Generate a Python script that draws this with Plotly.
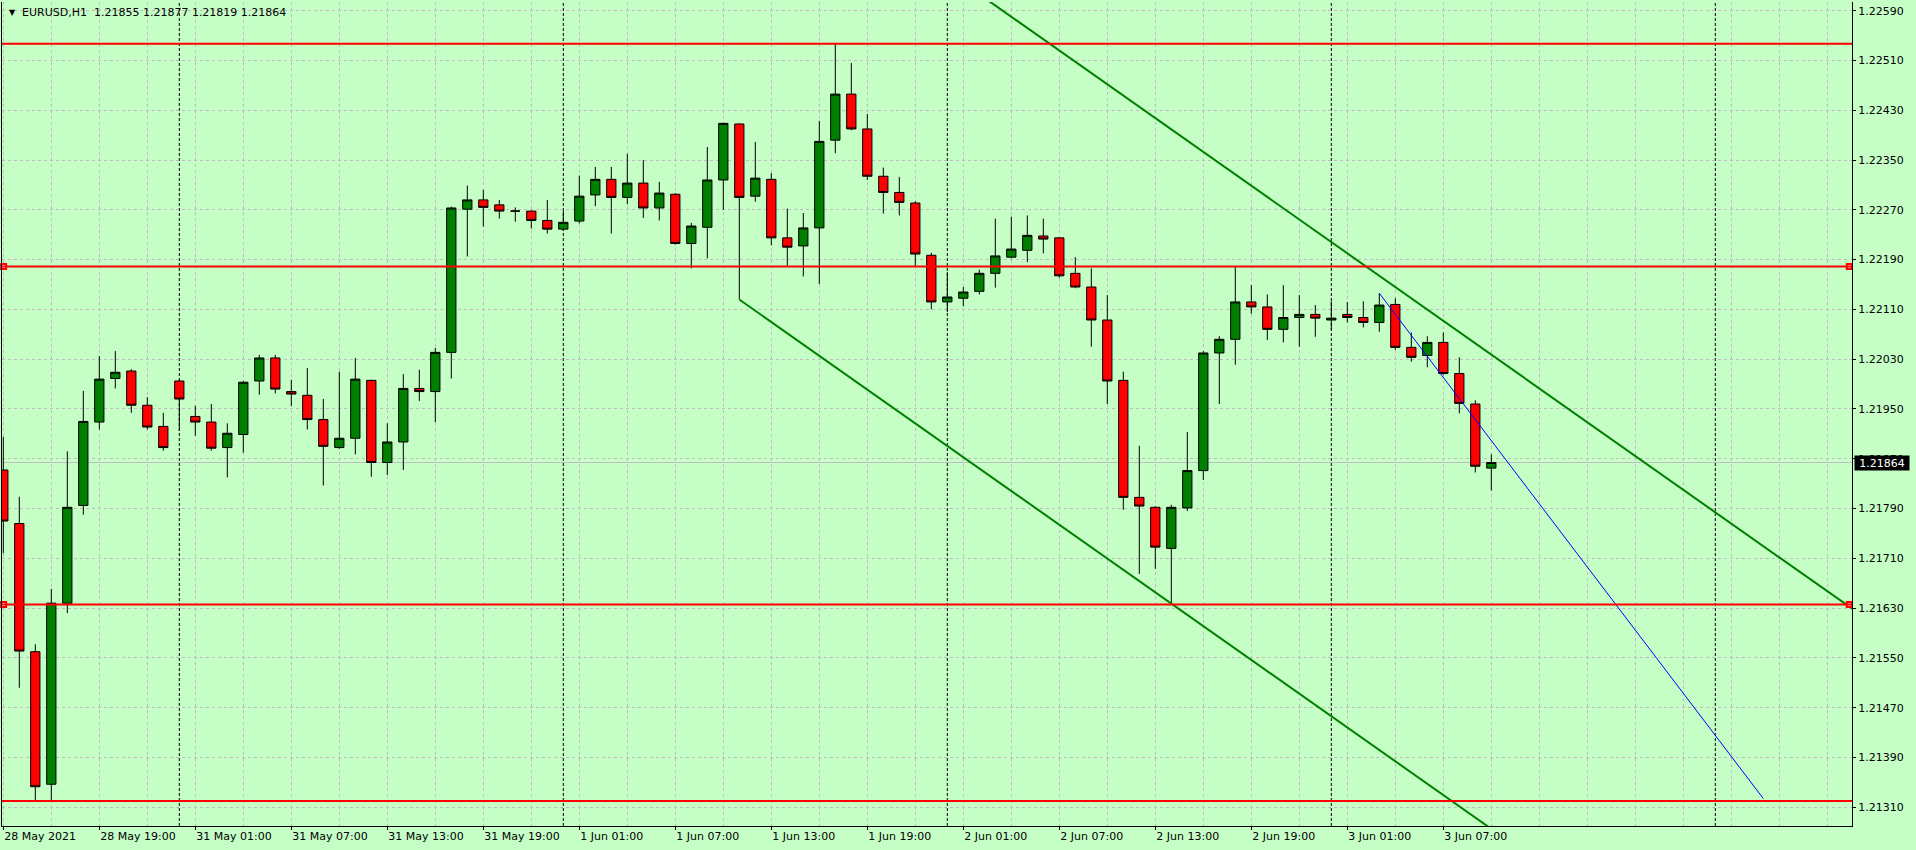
import plotly.graph_objects as go

# EURUSD H1, bars indexed from 28 May 2021 13:00 (bar 0) to 3 Jun 2021 10:00 (bar 93)
opens = [
    1.21852, 1.21766, 1.21560, 1.21347, 1.21638, 1.21795, 1.21929, 1.21999, 1.22011, 1.21956,
    1.21922, 1.21995, 1.21938, 1.21929, 1.21888, 1.21909, 1.21995, 1.22032, 1.21978, 1.21972,
    1.21933, 1.21888, 1.21903, 1.21996, 1.21864, 1.21897, 1.21983, 1.21978, 1.22041, 1.22271,
    1.22286, 1.22278, 1.22268, 1.22268, 1.22253, 1.22239, 1.22252, 1.22294, 1.22319, 1.22290,
    1.22313, 1.22273, 1.22295, 1.22216, 1.22242, 1.22318, 1.22408, 1.22292, 1.22319, 1.22225,
    1.22212, 1.22241, 1.22382, 1.22456, 1.22400, 1.22324, 1.22298, 1.22281, 1.22197, 1.22122,
    1.22128, 1.22139, 1.22168, 1.22194, 1.22205, 1.22228, 1.22225, 1.22168, 1.22146, 1.22093,
    1.21996, 1.21808, 1.21792, 1.21726, 1.21791, 1.21851, 1.22040, 1.22062, 1.22122, 1.22114,
    1.22078, 1.22097, 1.22102, 1.22093, 1.22102, 1.22097, 1.22089, 1.22118, 1.22049, 1.22036,
    1.22057, 1.22007, 1.21958, 1.21855,
]
highs = [
    1.21905, 1.21809, 1.21572, 1.21661, 1.21882, 1.21979, 1.22035, 1.22043, 1.22014, 1.21969,
    1.21944, 1.21997, 1.21955, 1.21958, 1.21927, 1.21995, 1.22037, 1.22037, 1.21997, 1.22016,
    1.21966, 1.22010, 1.22032, 1.21997, 1.21927, 1.22006, 1.22013, 1.22048, 1.22275, 1.22309,
    1.22302, 1.22286, 1.22274, 1.22269, 1.22286, 1.22268, 1.22325, 1.22339, 1.22339, 1.22360,
    1.22350, 1.22315, 1.22297, 1.22249, 1.22371, 1.22410, 1.22409, 1.22379, 1.22329, 1.22272,
    1.22265, 1.22413, 1.22538, 1.22506, 1.22424, 1.22338, 1.22323, 1.22284, 1.22201, 1.22170,
    1.22146, 1.22174, 1.22256, 1.22259, 1.22261, 1.22256, 1.22226, 1.22194, 1.22176, 1.22133,
    1.22010, 1.21891, 1.21794, 1.21796, 1.21913, 1.22043, 1.22067, 1.22180, 1.22149, 1.22134,
    1.22149, 1.22133, 1.22117, 1.22123, 1.22122, 1.22123, 1.22136, 1.22128, 1.22073, 1.22067,
    1.22073, 1.22033, 1.21964, 1.21877,
]
lows = [
    1.21718, 1.21502, 1.21321, 1.21319, 1.21622, 1.21780, 1.21917, 1.21983, 1.21944, 1.21917,
    1.21883, 1.21915, 1.21907, 1.21883, 1.21840, 1.21880, 1.21973, 1.21975, 1.21955, 1.21917,
    1.21827, 1.21886, 1.21877, 1.21841, 1.21844, 1.21852, 1.21963, 1.21929, 1.21999, 1.22195,
    1.22243, 1.22256, 1.22251, 1.22240, 1.22232, 1.22236, 1.22248, 1.22276, 1.22232, 1.22279,
    1.22257, 1.22253, 1.22214, 1.22176, 1.22192, 1.22270, 1.22126, 1.22283, 1.22213, 1.22180,
    1.22163, 1.22151, 1.22361, 1.22398, 1.22318, 1.22264, 1.22261, 1.22179, 1.22110, 1.22106,
    1.22115, 1.22134, 1.22145, 1.22192, 1.22186, 1.22200, 1.22161, 1.22144, 1.22050, 1.21958,
    1.21788, 1.21685, 1.21693, 1.21635, 1.21786, 1.21836, 1.21958, 1.22021, 1.22103, 1.22061,
    1.22057, 1.22050, 1.22066, 1.22077, 1.22089, 1.22081, 1.22074, 1.22045, 1.22026, 1.22017,
    1.22005, 1.21943, 1.21848, 1.21819,
]
closes = [
    1.21770, 1.21561, 1.21343, 1.21638, 1.21792, 1.21930, 1.21998, 1.22009, 1.21956, 1.21921,
    1.21888, 1.21966, 1.21929, 1.21887, 1.21911, 1.21993, 1.22032, 1.21982, 1.21974, 1.21933,
    1.21890, 1.21903, 1.21998, 1.21864, 1.21897, 1.21983, 1.21978, 1.22041, 1.22273, 1.22286,
    1.22274, 1.22268, 1.22268, 1.22253, 1.22239, 1.22250, 1.22292, 1.22319, 1.22290, 1.22313,
    1.22273, 1.22297, 1.22216, 1.22244, 1.22318, 1.22409, 1.22290, 1.22321, 1.22225, 1.22210,
    1.22241, 1.22380, 1.22456, 1.22400, 1.22324, 1.22298, 1.22282, 1.22199, 1.22122, 1.22130,
    1.22138, 1.22168, 1.22196, 1.22207, 1.22229, 1.22223, 1.22164, 1.22146, 1.22093, 1.21995,
    1.21808, 1.21794, 1.21728, 1.21792, 1.21851, 1.22040, 1.22062, 1.22122, 1.22114, 1.22078,
    1.22097, 1.22102, 1.22096, 1.22096, 1.22097, 1.22089, 1.22117, 1.22049, 1.22033, 1.22057,
    1.22007, 1.21959, 1.21858, 1.21864,
]
bars = list(range(len(opens)))

label_bars = [0, 6, 12, 18, 24, 30, 36, 42, 48, 54, 60, 66, 72, 78, 84, 90]
label_text = ["28 May 2021", "28 May 19:00", "31 May 01:00", "31 May 07:00", "31 May 13:00",
              "31 May 19:00", "1 Jun 01:00", "1 Jun 07:00", "1 Jun 13:00", "1 Jun 19:00",
              "2 Jun 01:00", "2 Jun 07:00", "2 Jun 13:00", "2 Jun 19:00", "3 Jun 01:00",
              "3 Jun 07:00"]
day_starts = [11, 35, 59, 83, 107]

# drawn objects
hlines = [1.22537, 1.22179, 1.21636, 1.21320]
marked_hlines = [1.22179, 1.21636]
channel_bars = [46, 116]
channel_lower = [1.22126, 1.20859]
channel_upper = [1.22888, 1.21621]
blue_bars = [86, 110]
blue_prices = [1.22136, 1.21324]

BG = "#C6FFC6"
GRID = "#C4B8C4"
X_RANGE = [-0.081, 115.544]
Y_RANGE = [1.212799, 1.226040]

fig = go.Figure()

fig.add_trace(go.Candlestick(
    x=bars, open=opens, high=highs, low=lows, close=closes,
    increasing=dict(fillcolor="#008000", line=dict(color="black", width=1)),
    decreasing=dict(fillcolor="#FF0000", line=dict(color="black", width=1)),
    whiskerwidth=0, hoverinfo="skip", showlegend=False,
))

fig.add_trace(go.Scatter(x=channel_bars, y=channel_lower, mode="lines",
                         line=dict(color="#008000", width=2), hoverinfo="skip", showlegend=False))
fig.add_trace(go.Scatter(x=channel_bars, y=channel_upper, mode="lines",
                         line=dict(color="#008000", width=2), hoverinfo="skip", showlegend=False))
fig.add_trace(go.Scatter(x=blue_bars, y=blue_prices, mode="lines",
                         line=dict(color="#0000FF", width=1), hoverinfo="skip", showlegend=False))

shapes = []
for d in day_starts:
    shapes.append(dict(type="line", xref="x", yref="paper", x0=d, x1=d, y0=0, y1=1,
                       line=dict(color="black", width=1, dash="3px,2px"), layer="between"))
shapes.append(dict(type="line", xref="paper", yref="y", x0=0, x1=1, y0=closes[-1], y1=closes[-1],
                   line=dict(color="#C0C0C0", width=1), layer="between"))
for h in hlines:
    shapes.append(dict(type="line", xref="paper", yref="y", x0=0, x1=1, y0=h, y1=h,
                       line=dict(color="#FF0000", width=2), layer="above"))

# anchor squares at both ends of the selected lines
mx = [X_RANGE[0] + 0.1, X_RANGE[1] - 0.17]
fig.add_trace(go.Scatter(
    x=[mx[0], mx[1]] * len(marked_hlines),
    y=[v for v in marked_hlines for _ in range(2)],
    mode="markers", cliponaxis=False,
    marker=dict(symbol="square", size=5, color="white", line=dict(color="#FF0000", width=2)),
    hoverinfo="skip", showlegend=False,
))

header = "EURUSD,H1\u00a0\u00a0{:.5f} {:.5f} {:.5f} {:.5f}".format(
    opens[-1], highs[-1], lows[-1], closes[-1])

fig.update_layout(
    width=1916, height=850,
    margin=dict(l=2, r=64, t=2, b=24),
    paper_bgcolor=BG, plot_bgcolor=BG,
    font=dict(family="DejaVu Sans", size=11, color="black"),
    showlegend=False,
    boxgap=0.42, boxgroupgap=0,
    shapes=shapes,
    xaxis=dict(
        range=X_RANGE, rangeslider=dict(visible=False),
        tickmode="array", tickvals=label_bars, ticktext=label_text,
        ticklabelposition="outside right",
        ticks="outside", ticklen=3, tickcolor="black",
        showgrid=True, gridcolor=GRID, griddash="3px,3px", gridwidth=1,
        minor=dict(tickmode="linear", tick0=0, dtick=3, showgrid=True,
                   gridcolor=GRID, griddash="3px,3px", ticks=""),
        showline=True, linecolor="black", linewidth=1, mirror=False,
        zeroline=False, fixedrange=True,
    ),
    yaxis=dict(
        range=Y_RANGE, side="right",
        tickmode="linear", tick0=1.21310, dtick=0.0008, tickformat=".5f",
        ticks="outside", ticklen=3, tickcolor="black",
        showgrid=True, gridcolor=GRID, griddash="3px,3px", gridwidth=1,
        showline=True, linecolor="black", linewidth=1, mirror=True,
        zeroline=False, fixedrange=True,
    ),
    annotations=[
        dict(xref="paper", yref="paper", x=0, y=1, xanchor="left", yanchor="middle",
             xshift=5, yshift=-10.5, text="\u25bc", showarrow=False,
             font=dict(size=8, color="black")),
        dict(xref="paper", yref="paper", x=0, y=1, xanchor="left", yanchor="middle",
             xshift=18, yshift=-10.5, text=header, showarrow=False),
        dict(xref="paper", yref="y", x=1, y=closes[-1], xanchor="left", yanchor="middle",
             xshift=2, text="{:.5f}".format(closes[-1]), showarrow=False,
             bgcolor="black", font=dict(color="white", size=11), width=54, height=14,
             borderpad=0),
    ],
)

fig.write_html("out.html", config={"displayModeBar": False},
               post_script="document.body.style.margin='0';")
